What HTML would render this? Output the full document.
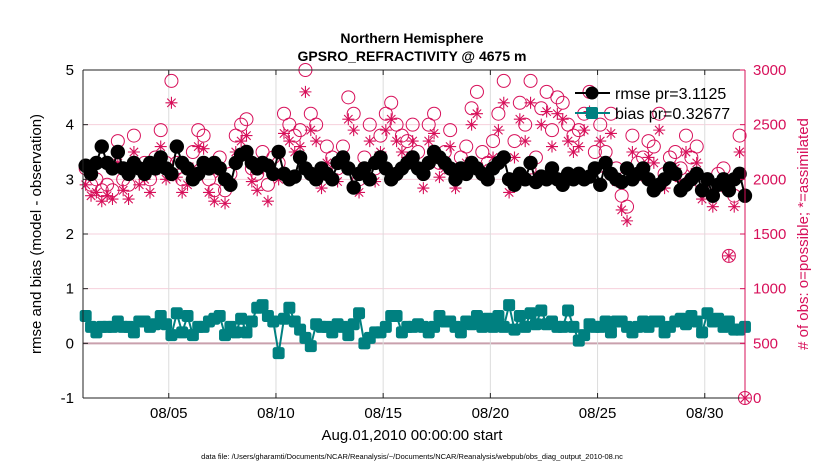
<!DOCTYPE html>
<html><head><meta charset="utf-8"><style>
body{margin:0;background:#fff;font-family:"Liberation Sans",sans-serif}
svg text{font-family:"Liberation Sans",sans-serif}
</style></head><body>
<svg id="c" width="830" height="470" viewBox="0 0 830 470" xmlns="http://www.w3.org/2000/svg">
<text x="412" y="43" text-anchor="middle" font-size="14" font-weight="bold">Northern Hemisphere</text>
<text x="412" y="61" text-anchor="middle" font-size="14" font-weight="bold">GPSRO_REFRACTIVITY @ 4675 m</text>
<text x="412" y="440" text-anchor="middle" font-size="15">Aug.01,2010 00:00:00 start</text>
<text x="412" y="459" text-anchor="middle" font-size="7.5">data file: /Users/gharamti/Documents/NCAR/Reanalysis/~/Documents/NCAR/Reanalysis/webpub/obs_diag_output_2010-08.nc</text>
<text transform="translate(41,234) rotate(-90)" text-anchor="middle" font-size="15">rmse and bias (model - observation)</text>
<text transform="translate(808,234) rotate(-90)" text-anchor="middle" font-size="15" fill="#d7105a"># of obs: o=possible; *=assimilated</text>
<g id="grid"></g><g id="marks"></g><g id="axes"></g>
<g>
<line x1="575" y1="93" x2="610" y2="93" stroke="#000" stroke-width="2"/>
<circle cx="592" cy="93" r="6.5" fill="#000"/>
<text x="615" y="99" font-size="16">rmse pr=3.1125</text>
<line x1="575" y1="113" x2="610" y2="113" stroke="#008080" stroke-width="2"/>
<rect x="586" y="107" width="12" height="12" rx="2" fill="#008080"/>
<text x="615" y="119" font-size="16">bias pr=0.32677</text>
</g>
</svg>
<script>
const rmse=[3.25,3.1,3.3,3.6, 3.3,3.2,3.5,3.2, 3.1,3.3,3.2,3.1, 3.3,3.2,3.4,3.2, 3.1,3.6,3.3,3.2, 3.0,3.1,3.3,3.2, 3.3,3.2,3.0,2.9, 3.3,3.45,3.5,3.3, 3.2,3.3,3.25,3.1, 3.5,3.1,3.0,3.05, 3.4,3.2,3.1,3.0, 3.2,3.1,3.0,3.3, 3.4,3.2,2.85,3.1, 3.2,3.0,3.3,3.4, 3.2,3.0,3.1,3.2, 3.3,3.4,3.2,3.1, 3.3,3.5,3.4,3.3, 3.2,3.0,3.2,3.1, 3.3,3.2,3.1,3.0, 3.2,3.3,3.4,3.0, 2.9,3.1,3.0,3.3, 2.95,3.05,3.0,3.2, 3.0,2.9,3.1,3.0, 3.1,3.0,3.05,3.2, 2.9,3.3,3.1,3.0, 2.95,3.2,3.0,3.1, 3.2,3.0,2.8,2.9, 3.0,3.2,3.1,2.8, 2.9,3.0,3.1,2.8, 3.0,2.7,2.9,3.0, 2.8,3.0,3.1,2.7];
const bias=[0.5,0.3,0.2,0.3, 0.3,0.3,0.4,0.3, 0.3,0.2,0.4,0.4, 0.3,0.35,0.5,0.35, 0.15,0.55,0.2,0.5, 0.15,0.3,0.3,0.4, 0.45,0.5,0.15,0.3, 0.2,0.45,0.2,0.4, 0.65,0.7,0.5,0.4, -0.18,0.45,0.65,0.4, 0.25,0.1,-0.05,0.35, 0.3,0.3,0.2,0.35, 0.3,0.15,0.35,0.55, 0.0,0.1,0.2,0.2, 0.3,0.5,0.5,0.2, 0.3,0.3,0.35,0.3, 0.2,0.3,0.5,0.4, 0.4,0.3,0.2,0.4, 0.35,0.5,0.3,0.45, 0.3,0.5,0.3,0.7, 0.25,0.5,0.3,0.55, 0.35,0.6,0.35,0.4, 0.3,0.3,0.6,0.3, 0.05,0.15,0.35,0.3, 0.3,0.4,0.2,0.4, 0.4,0.3,0.2,0.3, 0.4,0.3,0.4,0.4, 0.2,0.3,0.4,0.45, 0.35,0.5,0.4,0.2, 0.55,0.4,0.45,0.3, 0.4,0.25,0.25,0.3];
const possible=[2100,1950,2000,1900, 1950,1900,2350,2000, 1950,2400,2100,2150, 2000,2200,2450,2150, 2900,2150,2000,2100, 2250,2450,2400,2000, 1900,2200,1900,2050, 2400,2500,2550,2100, 2050,2250,1950,2200, 2150,2600,2500,2400, 2450,3000,2600,2500, 2050,2300,2200,2100, 2300,2750,2600,2000, 2200,2500,2100,2400, 2600,2700,2500,2400, 2350,2500,2250,2050, 2500,2600,2150,2250, 2450,2050,2200,2300, 2650,2800,2250,2150, 2350,2600,2900,2000, 2350,2700,2500,2900, 2200,2650,2800,2450, 2750,2700,2500,2400, 2450,2600,2800,2250, 2500,2250,2600,2100, 1850,1750,2400,2150, 2200,2350,2300,2600, 2050,2200,2250,2100, 2400,2200,2300,1950, 2000,1850,2050,2100, 1300,1850,2400,0];
const assimilated=[1950,1850,1880,1800, 1850,1820,2150,1900, 1820,2250,1950,2000, 1880,2080,2300,2000, 2700,2020,1880,1950, 2100,2300,2280,1880, 1800,2050,1780,1950, 2250,2350,2400,1980, 1900,2100,1800,2050, 2000,2420,2350,2250, 2300,2800,2450,2350, 1920,2150,2050,1980, 2180,2550,2450,1880, 2050,2350,1980,2250, 2450,2550,2350,2250, 2200,2350,2100,1920, 2350,2420,2020,2100, 2300,1920,2050,2150, 2500,2600,2100,2020, 2200,2450,2700,1880, 2200,2550,2350,2700, 2050,2500,2620,2300, 2600,2550,2350,2250, 2300,2450,2620,2100, 2350,2100,2420,1980, 1720,1620,2250,2020, 2050,2200,2150,2450, 1920,2050,2100,1980, 2250,2050,2150,1820, 1880,1750,1920,1980, 1300,1750,2250,0];
const xTicks=[4,9,14,19,24,29];
const xTickLabels=["08/05","08/10","08/15","08/20","08/25","08/30"];
const yTicks=[-1,0,1,2,3,4,5];
const y2Ticks=[0,500,1000,1500,2000,2500,3000];

const L=83,R=745,T=70,B=398;
const xs=d=>L+d*21.44;             // days since Aug 1 00:00
const ys=v=>B-(v+1)*(B-T)/6;
const y2=v=>B-v*(B-T)/3000;
const tOf=i=>i*0.25+0.125;
const NS='http://www.w3.org/2000/svg';
function mk(tag,attrs,parent){const e=document.createElementNS(NS,tag);for(const k in attrs)e.setAttribute(k,attrs[k]);parent.appendChild(e);return e;}
const grid=document.getElementById('grid'),marks=document.getElementById('marks'),axes=document.getElementById('axes');
yTicks.forEach(v=>{const l=mk('line',{x1:L,x2:R,y1:ys(v),y2:ys(v),stroke:v===0?'#c9a0ad':'#f6d0dc','stroke-width':v===0?2:1},grid);

});
xTicks.forEach(d=>{const l=mk('line',{x1:xs(d),x2:xs(d),y1:T,y2:B,stroke:'#dcdcdc','stroke-width':1},grid);

});
const C='#d7105a';
possible.forEach((v,i)=>{const c=mk('circle',{cx:xs(tOf(i)),cy:y2(v),r:6.5,fill:'none',stroke:C,'stroke-width':1},marks);

});
assimilated.forEach((v,i)=>{const x=xs(tOf(i)),y=y2(v),s=6;
const g=mk('path',{d:`M${x-s} ${y}H${x+s}M${x} ${y-s}V${y+s}M${x-4.2} ${y-4.2}L${x+4.2} ${y+4.2}M${x-4.2} ${y+4.2}L${x+4.2} ${y-4.2}`,stroke:C,'stroke-width':1.1,fill:'none'},marks);

});
const rl=mk('polyline',{points:rmse.map((v,i)=>xs(tOf(i))+','+ys(v)).join(' '),fill:'none',stroke:'#000','stroke-width':2},marks);


rmse.forEach((v,i)=>{const c=mk('circle',{cx:xs(tOf(i)),cy:ys(v),r:7.2,fill:'#000'},marks);

});
const bl=mk('polyline',{points:bias.map((v,i)=>xs(tOf(i))+','+ys(v)).join(' '),fill:'none',stroke:'#008080','stroke-width':2},marks);


bias.forEach((v,i)=>{const r=mk('rect',{x:xs(tOf(i))-6,y:ys(v)-6,width:12,height:12,rx:2.5,fill:'#008080'},marks);

});
mk('line',{x1:L,x2:L,y1:T,y2:B,stroke:'#222','stroke-width':1},axes);
mk('line',{x1:L,x2:R,y1:B,y2:B,stroke:'#222','stroke-width':1},axes);
mk('line',{x1:L,x2:R,y1:T,y2:T,stroke:'#222','stroke-width':1},axes);
mk('line',{x1:R,x2:R,y1:T,y2:B,stroke:C,'stroke-width':1},axes);
yTicks.forEach(v=>{mk('line',{x1:L,x2:L+5,y1:ys(v),y2:ys(v),stroke:'#222'},axes);
const t=mk('text',{x:L-9,y:ys(v)+5,'text-anchor':'end','font-size':15},axes);t.textContent=v;

});
y2Ticks.forEach(v=>{mk('line',{x1:R-5,x2:R,y1:y2(v),y2:y2(v),stroke:C},axes);
const t=mk('text',{x:R+8,y:y2(v)+5,'font-size':15,fill:C},axes);t.textContent=v;

});
xTicks.forEach((d,k)=>{mk('line',{x1:xs(d),x2:xs(d),y1:B,y2:B-5,stroke:'#222'},axes);mk('line',{x1:xs(d),x2:xs(d),y1:T,y2:T+5,stroke:'#222'},axes);
const t=mk('text',{x:xs(d),y:B+20,'text-anchor':'middle','font-size':15},axes);t.textContent=xTickLabels[k];

});
</script>
</body></html>
